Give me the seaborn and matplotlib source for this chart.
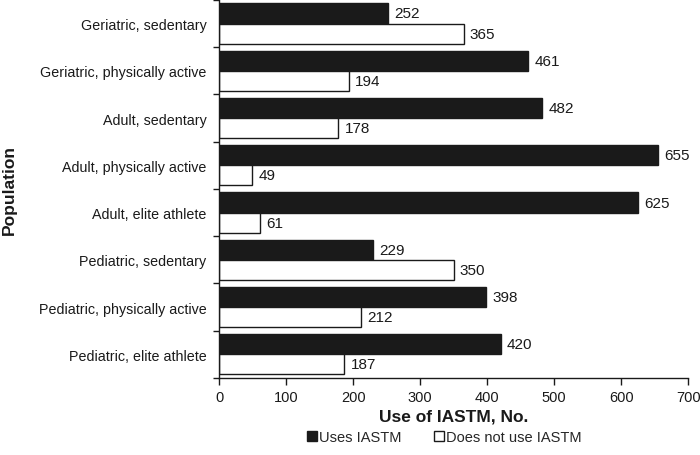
import matplotlib
matplotlib.use("Agg")
import matplotlib.pyplot as plt
import seaborn as sns
import pandas as pd
from matplotlib.ticker import FixedLocator
from matplotlib.patches import Patch

categories = ["Geriatric, sedentary", "Geriatric, physically active", "Adult, sedentary",
              "Adult, physically active", "Adult, elite athlete", "Pediatric, sedentary",
              "Pediatric, physically active", "Pediatric, elite athlete"]
uses = [252, 461, 482, 655, 625, 229, 398, 420]
not_uses = [365, 194, 178, 49, 61, 350, 212, 187]
series = ["Uses IASTM", "Does not use IASTM"]

df = pd.DataFrame({
    "Population": categories * 2,
    "Value": uses + not_uses,
    "Series": [series[0]] * len(categories) + [series[1]] * len(categories),
})

sns.set_style("ticks")
plt.rcParams['font.family'] = ['Liberation Sans', 'DejaVu Sans']

fig = plt.figure(figsize=(7, 4.56), dpi=100)
ax = fig.add_axes([0.313, 0.169, 0.67, 0.829])

sns.barplot(data=df, y="Population", x="Value", hue="Series", order=categories,
            hue_order=series, palette=["#1a1a1a", "white"], edgecolor="#1a1a1a",
            linewidth=1, width=0.85, orient="h", ax=ax, legend=False)

for cont in ax.containers:
    ax.bar_label(cont, padding=4.5, fontsize=11, color="#1a1a1a")

ax.set_xlim(0, 700)
ax.set_ylim(len(categories) - 0.5, -0.5)
ax.set_xticks(range(0, 701, 100))
ax.tick_params(axis="x", labelsize=10.5, length=5, width=1, colors="#1a1a1a", direction="out", pad=4)
ax.tick_params(axis="y", which="major", length=0, labelsize=10.3, pad=9, colors="#1a1a1a")
ax.yaxis.set_minor_locator(FixedLocator([i - 0.5 for i in range(len(categories) + 1)]))
ax.tick_params(axis="y", which="minor", length=4, width=1, direction="out", color="#1a1a1a")

ax.set_xlabel("Use of IASTM, No.", fontsize=12.5, fontweight="bold", labelpad=3, color="#1a1a1a")
ax.set_ylabel("")
fig.text(9 / 700, 1 - 190 / 456, "Population", rotation=90, ha="center", va="center",
         fontsize=12.5, fontweight="bold", color="#1a1a1a")
for s in ["top", "right"]:
    ax.spines[s].set_visible(False)
for s in ["left", "bottom"]:
    ax.spines[s].set_color("#1a1a1a")
    ax.spines[s].set_linewidth(1)

handles = [Patch(facecolor="#1a1a1a", edgecolor="#1a1a1a"),
           Patch(facecolor="white", edgecolor="#1a1a1a")]
fig.legend(handles, series, loc="lower center", bbox_to_anchor=(0.635, -0.005), ncol=2,
           frameon=False, fontsize=10.5, handlelength=0.7, handleheight=0.7,
           handletextpad=0.15, columnspacing=2.2)

fig.savefig("out.png", dpi=100)
